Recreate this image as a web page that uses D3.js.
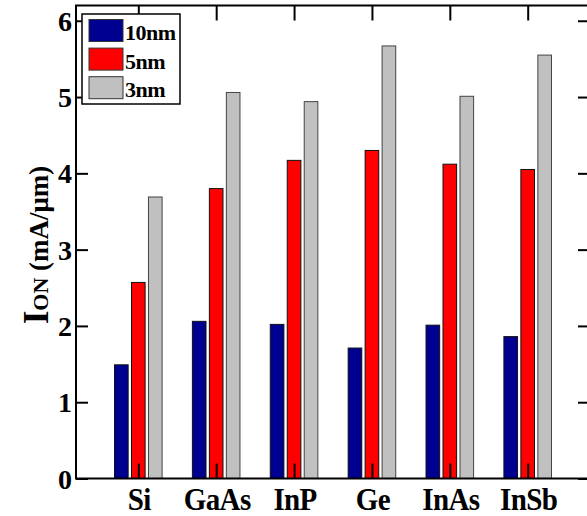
<!DOCTYPE html>
<html><head><meta charset="utf-8">
<script src="https://cdn.jsdelivr.net/npm/d3@7"></script>
<style>
html,body{margin:0;padding:0;background:#fff;}
svg{display:block;}
text{font-family:"Liberation Serif","Times New Roman",serif;font-weight:bold;fill:#000;}
</style></head>
<body>
<svg id="chart" width="587" height="516"></svg>
<script>
const categories = ["Si","GaAs","InP","Ge","InAs","InSb"];
const seriesNames = ["10nm","5nm","3nm"];
const values10nm = [1.49, 2.06, 2.02, 1.71, 2.01, 1.86];
const values5nm  = [2.57, 3.80, 4.17, 4.30, 4.12, 4.05];
const values3nm  = [3.69, 5.06, 4.94, 5.67, 5.01, 5.55];
const seriesColors = ["#000090","#ff0000","#c0c0c0"];
const yTicks = [0,1,2,3,4,5,6];

const series = [values10nm, values5nm, values3nm];
const svg = d3.select("#chart");
const L = 76, R = 590, T = 5.5, B = 478.5;
const x = d3.scaleLinear().domain([0.2, 6.8]).range([L, R]);
const y = d3.scaleLinear().domain([0, 6.2]).range([B, T]);
const unit = x(1) - x(0);
const barW = 0.175 * unit;
const offs = [-0.218, 0, 0.218];

// bars
series.forEach((vals, si) => {
  svg.append("g").selectAll("rect").data(vals).join("rect")
    .attr("x", (d, i) => x(i + 1 + offs[si]) - barW / 2)
    .attr("width", barW)
    .attr("y", d => y(d))
    .attr("height", d => y(0) - y(d))
    .attr("fill", seriesColors[si])
    .attr("stroke", si === 2 ? "#444" : "#111")
    .attr("stroke-width", 1);
});

// frame
svg.append("rect").attr("x", L).attr("y", T).attr("width", R - L).attr("height", B - T)
  .attr("fill", "none").attr("stroke", "#000").attr("stroke-width", 2);

// left y axis
const yAxisL = d3.axisRight(y).tickValues(yTicks).tickSize(12).tickFormat("");
const gl = svg.append("g").attr("transform", `translate(${L},0)`).call(yAxisL);
gl.select(".domain").remove();
gl.selectAll("line").attr("stroke", "#000").attr("stroke-width", 2);
// right y axis ticks
const yAxisR = d3.axisLeft(y).tickValues(yTicks).tickSize(12).tickFormat("");
const gr = svg.append("g").attr("transform", `translate(${R},0)`).call(yAxisR);
gr.select(".domain").remove();
gr.selectAll("line").attr("stroke", "#000").attr("stroke-width", 2);
// y labels
svg.append("g").selectAll("text").data(yTicks).join("text")
  .attr("x", L - 4).attr("y", d => y(d) + 10)
  .attr("text-anchor", "end").attr("font-size", 28)
  .text(d => d);

// top x ticks
const xAxisT = d3.axisBottom(x).tickValues(d3.range(1, categories.length + 1)).tickSize(15).tickFormat("");
const gt = svg.append("g").attr("transform", `translate(0,${T})`).call(xAxisT);
gt.select(".domain").remove();
gt.selectAll("line").attr("stroke", "#000").attr("stroke-width", 2);
// bottom x ticks
const xAxisB = d3.axisTop(x).tickValues(d3.range(1, categories.length + 1)).tickSize(15).tickFormat("");
const gb = svg.append("g").attr("transform", `translate(0,${B})`).call(xAxisB);
gb.select(".domain").remove();
gb.selectAll("line").attr("stroke", "#000").attr("stroke-width", 2);
// x labels
svg.append("g").selectAll("text").data(categories).join("text")
  .attr("transform", (d, i) => `translate(${x(i + 1) + 1},510) scale(1,1.08)`)
  .attr("text-anchor", "middle").attr("font-size", 29)
  .attr("letter-spacing", "-0.6")
  .text(d => d);

// y axis title
const yt = svg.append("text")
  .attr("transform", "translate(48,245) rotate(-90)")
  .attr("text-anchor", "middle");
yt.append("tspan").attr("font-size", 35).text("I");
yt.append("tspan").attr("font-size", 22).text("ON");
yt.append("tspan").attr("font-size", 27).text(" (mA/\u03bcm)");

// legend
const lg = svg.append("g");
lg.append("rect").attr("x", 82).attr("y", 14).attr("width", 98).attr("height", 90)
  .attr("fill", "#fff").attr("stroke", "#000").attr("stroke-width", 1.5);
seriesNames.forEach((nm, i) => {
  const yy = 19.5 + i * 28.6;
  lg.append("rect").attr("x", 89).attr("y", yy).attr("width", 34).attr("height", 22)
    .attr("fill", seriesColors[i]).attr("stroke", "#333").attr("stroke-width", 1);
  lg.append("text").attr("x", 125).attr("y", yy + 20.5).attr("font-size", 22)
    .attr("letter-spacing", "-0.5").text(nm);
});
</script>
</body></html>
